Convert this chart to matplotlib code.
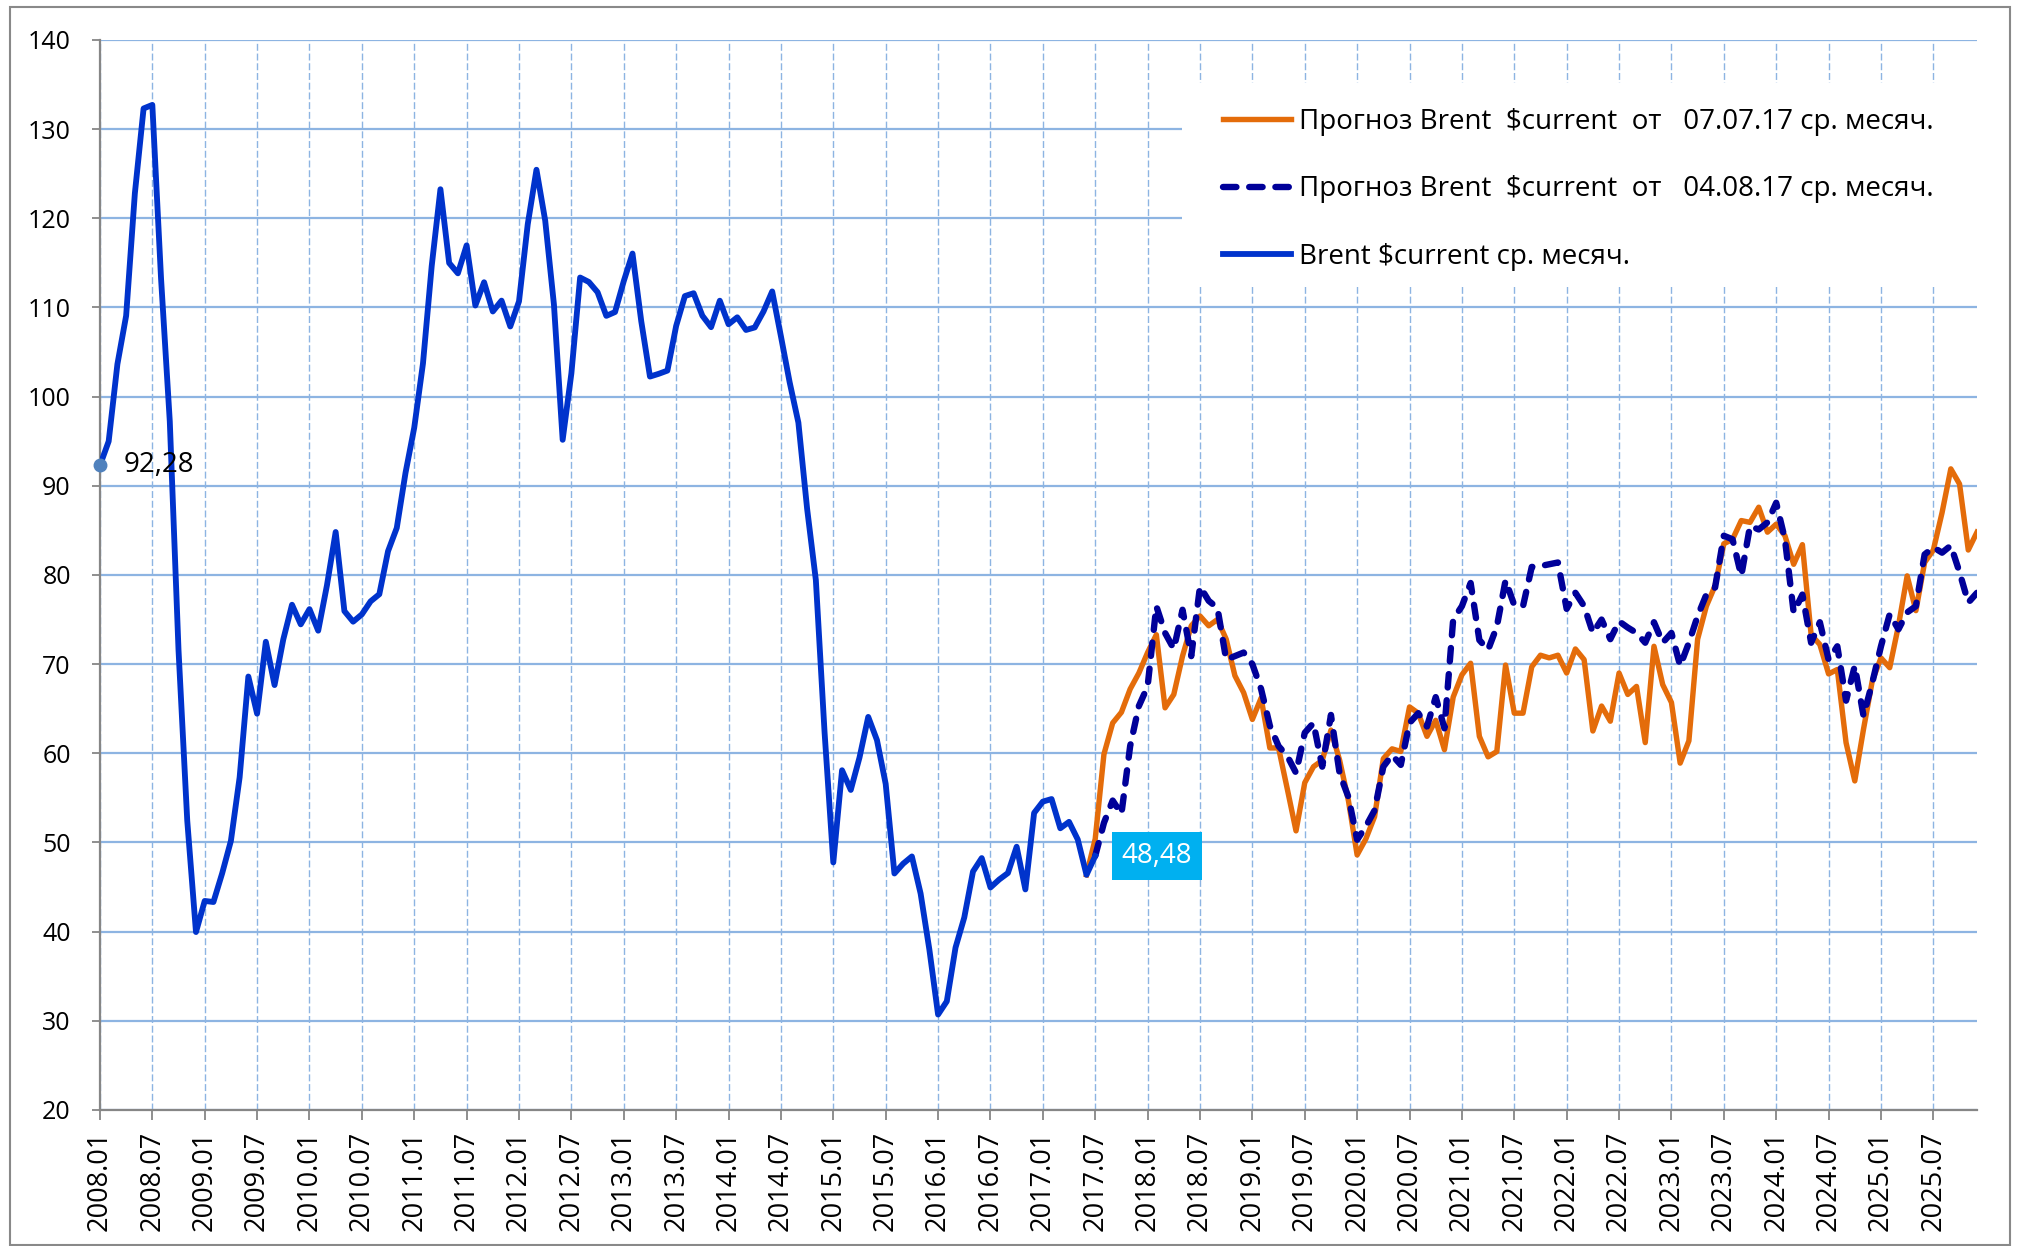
import matplotlib
matplotlib.use("Agg")
import matplotlib.pyplot as plt
from matplotlib.patches import Rectangle

plt.rcParams["font.family"] = ["Open Sans", "DejaVu Sans"]

# month labels 2008.01 .. 2025.12
months = [f"{y}.{m:02d}" for y in range(2008, 2026) for m in range(1, 13)]

# Brent $current, monthly average, 2008.01 .. 2017.07
brent = [
    92.28, 94.99, 103.64, 109.07, 122.80, 132.32, 132.72, 113.24, 97.23, 71.58, 52.45, 39.95,
    43.44, 43.32, 46.54, 50.18, 57.30, 68.61, 64.44, 72.51, 67.65, 72.77, 76.66, 74.46,
    76.17, 73.75, 78.83, 84.82, 75.95, 74.76, 75.58, 77.04, 77.84, 82.67, 85.28, 91.45,
    96.52, 103.72, 114.64, 123.26, 114.99, 113.83, 116.97, 110.22, 112.83, 109.55, 110.77, 107.87,
    110.69, 119.33, 125.45, 119.75, 110.34, 95.16, 102.62, 113.36, 112.86, 111.71, 109.06, 109.49,
    112.96, 116.05, 108.47, 102.25, 102.56, 102.92, 107.93, 111.28, 111.60, 109.08, 107.79, 110.76,
    108.12, 108.90, 107.48, 107.76, 109.54, 111.80, 106.77, 101.61, 97.09, 87.43, 79.44, 62.34,
    47.76, 58.10, 55.89, 59.52, 64.08, 61.48, 56.56, 46.52, 47.62, 48.43, 44.27, 38.01,
    30.70, 32.18, 38.21, 41.58, 46.74, 48.25, 44.95, 45.84, 46.57, 49.52, 44.73, 53.31,
    54.58, 54.87, 51.59, 52.31, 50.33, 46.37, 48.48,
]

# forecast of 07.07.17, from 2017.06
fc_0707_start = 113
fc_0707 = [
    46.37, 50.4, 59.9, 63.4, 64.6, 67.2, 69.0,
    71.3, 73.3, 65.1, 66.6, 70.9, 74.3, 75.4, 74.3, 75.0, 72.8, 68.7, 66.8,
    63.8, 66.2, 60.6, 60.6, 56.0, 51.3, 56.7, 58.5, 59.2, 62.6, 59.2, 54.7,
    48.6, 50.4, 52.9, 59.4, 60.5, 60.2, 65.2, 64.5, 61.9, 63.7, 60.4, 66.3,
    68.8, 70.1, 61.9, 59.6, 60.2, 69.9, 64.5, 64.5, 69.7, 71.0, 70.7, 71.0,
    69.0, 71.7, 70.5, 62.5, 65.3, 63.6, 69.0, 66.6, 67.5, 61.2, 72.0, 67.7,
    65.7, 58.9, 61.4, 72.8, 76.5, 78.8, 83.5, 84.0, 86.1, 85.9, 87.6, 84.8,
    85.7, 84.4, 81.2, 83.4, 73.3, 72.2, 68.9, 69.4, 61.2, 56.9, 62.7, 68.1,
    70.7, 69.6, 74.3, 79.9, 76.0, 81.4, 82.8, 87.0, 91.9, 90.2, 82.8, 84.8,
]

# forecast of 04.08.17, from 2017.07
fc_0408_start = 114
fc_0408 = [
    48.48, 52.2, 54.7, 53.2, 60.8, 65.3,
    67.5, 76.5, 73.5, 71.7, 76.1, 70.9, 78.7, 77.1, 76.3, 70.5, 70.9, 71.3,
    70.0, 67.2, 63.1, 60.8, 59.7, 57.8, 62.3, 63.4, 58.5, 64.3, 57.7, 55.1,
    50.3, 51.8, 53.6, 58.5, 59.8, 58.7, 63.4, 64.5, 63.0, 66.3, 62.8, 75.0,
    76.5, 79.1, 72.7, 71.6, 74.2, 79.4, 76.6, 76.5, 80.9, 81.0, 81.2, 81.4,
    76.2, 78.0, 76.5, 73.5, 75.0, 72.8, 74.8, 74.1, 73.5, 72.4, 74.7, 72.4,
    73.5, 69.8, 72.4, 75.4, 77.8, 78.6, 84.4, 84.0, 79.9, 85.5, 85.1, 85.9,
    88.1, 84.0, 75.8, 77.8, 72.4, 74.7, 70.5, 72.0, 65.9, 69.8, 64.2, 67.9,
    72.0, 75.6, 73.9, 75.8, 76.5, 82.3, 83.1, 82.5, 83.3, 80.3, 76.9, 78.0,
]

labels = [
    "Прогноз Brent  $current  от   07.07.17 ср. месяч.",
    "Прогноз Brent  $current  от   04.08.17 ср. месяч.",
    "Brent $current ср. месяч.",
]

x_hist = list(range(len(brent)))
x_0707 = list(range(fc_0707_start, fc_0707_start + len(fc_0707)))
x_0408 = list(range(fc_0408_start, fc_0408_start + len(fc_0408)))

fig = plt.figure(figsize=(20.19, 12.46), dpi=100)
ax = fig.add_axes([0.0495, 0.1092, 0.9297, 0.8587])

grid_c = "#8DB4E2"
axis_c = "#868686"

l1, = ax.plot(x_0707, fc_0707, color="#E46C0A", lw=3.9, zorder=2,
              solid_joinstyle="round", label=labels[0])
l2, = ax.plot(x_0408, fc_0408, color="#000099", lw=4.6, zorder=3,
              linestyle=(0, (2.1, 2.0)), dash_capstyle="round",
              dash_joinstyle="round", label=labels[1])
l3, = ax.plot(x_hist, brent, color="#0033CC", lw=4.2, zorder=4,
              solid_joinstyle="round", label=labels[2])

# first point marker and data labels
ax.plot(x_hist[0], brent[0], "o", color="#4F81BD", ms=9, zorder=5, clip_on=False)
ax.annotate("92,28", (x_hist[0], brent[0]), xytext=(17, 0),
            textcoords="offset points", ha="left", va="center",
            fontsize=20, color="black", zorder=6)
ax.annotate("48,48", (x_hist[-1], brent[-1]), xytext=(19, 0),
            textcoords="offset points", ha="left", va="center",
            fontsize=20, color="white", zorder=6,
            bbox=dict(boxstyle="square,pad=0.36", fc="#00B0F0", ec="none"))

ax.set_xlim(0, len(months) - 1)
ax.set_ylim(20, 140)
ax.set_yticks(range(20, 141, 10))
ax.set_xticks(range(0, len(months), 6))
ax.set_xticklabels(months[::6], rotation=90, fontsize=19.5)
ax.tick_params(axis="y", labelsize=18, length=6, width=1.3, color=axis_c, pad=15)
ax.tick_params(axis="x", length=7, width=1.3, color=axis_c, pad=8)

ax.set_axisbelow(True)
ax.yaxis.grid(True, color=grid_c, lw=1.6, linestyle="-")
ax.xaxis.grid(True, color=grid_c, lw=1.0, linestyle=(0, (5, 2)))

for s in ("top", "right"):
    ax.spines[s].set_visible(False)
for s in ("left", "bottom"):
    ax.spines[s].set_color(axis_c)
    ax.spines[s].set_linewidth(1.6)

# white area behind the legend hides the grid
ax.add_patch(Rectangle((0.5764, 0.769), 0.4236, 0.191, transform=ax.transAxes,
                       facecolor="white", edgecolor="none", zorder=1))

leg = ax.legend(handles=[l1, l2, l3], loc="upper left",
                bbox_to_anchor=(0.6057, 0.9135), bbox_transform=fig.transFigure,
                frameon=False, fontsize=20, handlelength=2.45, handletextpad=0.3,
                labelspacing=1.42, borderpad=0, borderaxespad=0)

# chart border
fig.patches.append(Rectangle((0.005, 0.0012), 0.9906, 0.9932, transform=fig.transFigure,
                             facecolor="none", edgecolor="#898989", lw=1.5))

fig.savefig("out.png", dpi=100)
